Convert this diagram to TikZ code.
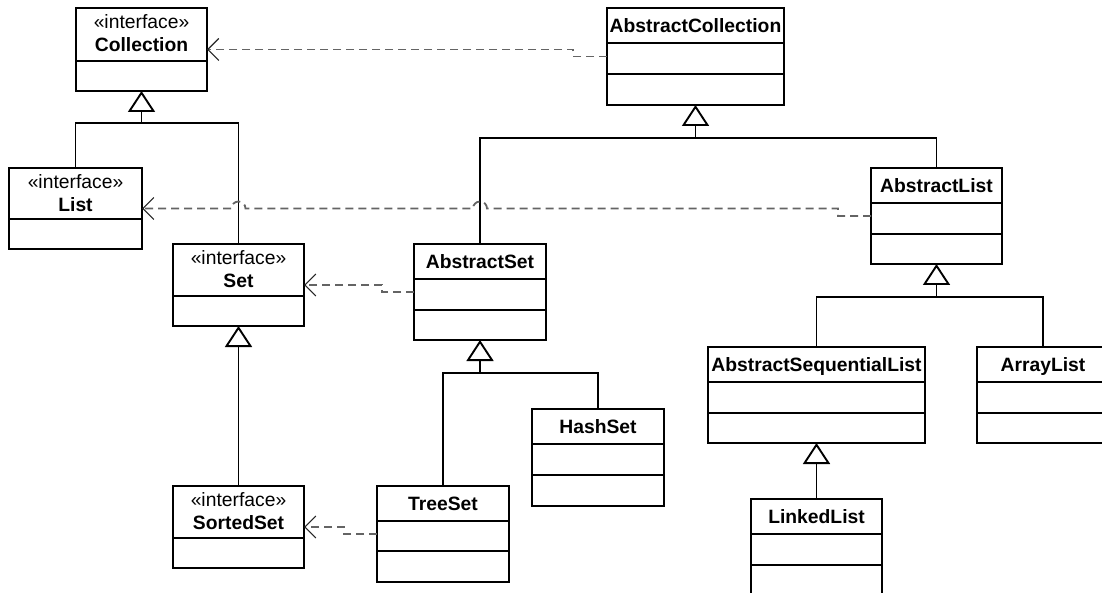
\documentclass[tikz,border=0pt]{standalone}
\usepackage{fontspec}
\setmainfont{Liberation Sans}
\usetikzlibrary{arrows.meta,calc}

\definecolor{dashgray}{RGB}{100,100,100}

\tikzset{
  classbox/.style={draw=black, line width=1.9pt, fill=white, inner sep=0pt, outer sep=0pt},
  divider/.style={line width=1.9pt},
  classname/.style={font=\fontsize{19.3}{23}\selectfont\bfseries, anchor=base, inner sep=0pt},
  stereotype/.style={font=\fontsize{19.3}{23}\selectfont, anchor=base, inner sep=0pt},
  inherit/.style={line width=1.3pt, -{Triangle[open, length=21pt, width=27pt, line width=1.9pt]}},
  branch/.style={line width=1.3pt},
  realize/.style={draw=dashgray, line width=1.8pt, dash pattern=on 8pt off 5pt,
    -{Straight Barb[length=11pt, width=22pt, line width=1.1pt, color=black!85]}},
}

% class box with name, attribute and operation compartments
% #1 name, #2 left, #3 top, #4 right, #5 bottom, #6 first rule, #7 second rule, #8 title
\newcommand\plainclass[8]{%
  \node[classbox, minimum width={#4-#2}, minimum height={#5-#3}] (#1) at ({(#2+#4)/2},{(#3+#5)/2}) {};
  \draw[divider] (#2,#6) -- (#4,#6);
  \draw[divider] (#2,#7) -- (#4,#7);
  \node[classname] (#1-title) at ({(#2+#4)/2},{#3+24.5}) {#8};
}
% interface box: stereotype, name, one compartment
% #1 name, #2 left, #3 top, #4 right, #5 bottom, #6 rule, #7 title
\newcommand\interfaceclass[7]{%
  \node[classbox, minimum width={#4-#2}, minimum height={#5-#3}] (#1) at ({(#2+#4)/2},{(#3+#5)/2}) {};
  \draw[divider] (#2,#6) -- (#4,#6);
  \node[stereotype] (#1-stereo) at ({(#2+#4)/2},{#3+20.5}) {«interface»};
  \node[classname] (#1-title) at ({(#2+#4)/2},{#3+43.5}) {#7};
}

\begin{document}
\begin{tikzpicture}[x=1pt, y=-1pt]
  \useasboundingbox (0,0) rectangle (1102,593);
  \fill[white] (0,0) rectangle (1102,593);
  \clip (0,0) rectangle (1102,593);

  % interfaces
  \interfaceclass{coll}{76}{8}{207}{91}{61}{Collection}
  \interfaceclass{list}{9}{168}{142}{249}{219}{List}
  \interfaceclass{set}{173}{244}{304}{326}{296}{Set}
  \interfaceclass{sorted}{173}{486}{304}{568}{538}{SortedSet}

  % classes
  \plainclass{ac}{607}{8}{784}{105}{43}{74}{AbstractCollection}
  \plainclass{al}{871}{168}{1002}{264}{203}{234}{AbstractList}
  \plainclass{aset}{414}{244}{546}{340}{279}{310}{AbstractSet}
  \plainclass{hs}{532}{409}{664}{506}{444}{475}{HashSet}
  \plainclass{ts}{377}{486}{509}{582}{521}{551}{TreeSet}
  \plainclass{asl}{708}{347}{925}{443}{382}{413}{AbstractSequentialList}
  \plainclass{arr}{977}{347}{1109}{443}{382}{413}{ArrayList}
  \plainclass{ll}{751}{499}{882}{595}{534}{565}{LinkedList}

  % generalization trees
  \coordinate (b1) at ($(coll.south)+(0,32)$);
  \draw[inherit] (b1) -- (coll.south);
  \draw[branch] (list.north) |- (b1);
  \draw[branch] (set.north) |- (b1);

  \coordinate (b2) at ($(ac.south)+(0,33)$);
  \draw[inherit] (b2) -- (ac.south);
  \draw[branch] (aset.north) |- (b2);
  \draw[branch] (al.north) |- (b2);

  \coordinate (b3) at ($(al.south)+(0,33)$);
  \draw[inherit] (b3) -- (al.south);
  \draw[branch] (asl.north) |- (b3);
  \draw[branch] (arr.north) |- (b3);

  \coordinate (b4) at ($(aset.south)+(0,33)$);
  \draw[inherit] (b4) -- (aset.south);
  \draw[branch] (ts.north) |- (b4);
  \draw[branch] (hs.north) |- (b4);

  \draw[inherit] (sorted.north) -- (set.south);
  \draw[inherit] (ll.north) -- (asl.south);

  % realizations
  \draw[realize] (ac.west) -- ++(-34,0) |- (coll.east);
  \draw[realize] (al.west) -- ++(-33,0)
    |- ($(aset.north |- list.east)+(7,0)$) arc[start angle=0, end angle=-180, radius=7]
    -- ($(set.north |- list.east)+(7,0)$) arc[start angle=0, end angle=-180, radius=7]
    -- (list.east);
  \draw[realize] (aset.west) -- ++(-32,0) |- (set.east);
  \draw[realize] (ts.west) -- ++(-33,0) |- (sorted.east);
\end{tikzpicture}
\end{document}
